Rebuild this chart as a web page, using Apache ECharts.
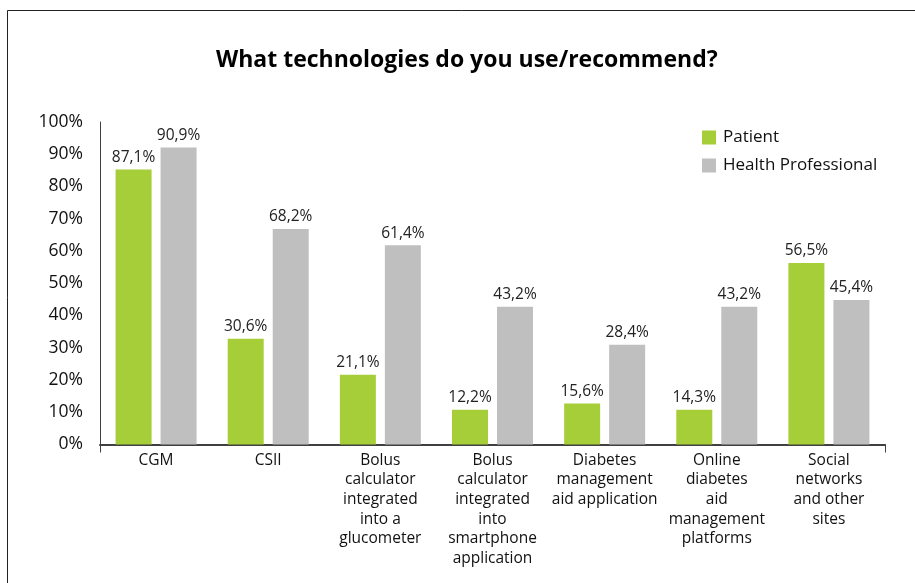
<!DOCTYPE html>
<html><head><meta charset="utf-8">
<script src="https://cdn.jsdelivr.net/npm/echarts@6/dist/echarts.min.js"></script>
<style>html,body{margin:0;padding:0;background:#fff}#c{width:915px;height:583px}</style>
</head><body><div id="c"></div>
<script>
var categories = ["CGM", "CSII", "Bolus\ncalculator\nintegrated\ninto a\nglucometer", "Bolus\ncalculator\nintegrated\ninto\nsmartphone\napplication", "Diabetes\nmanagement\naid application", "Online\ndiabetes\naid\nmanagement\nplatforms", "Social\nnetworks\nand other\nsites"];
var patient = [85.3, 32.8, 21.6, 10.8, 12.7, 10.8, 56.3];
var professional = [92.1, 66.8, 61.8, 42.7, 30.9, 42.7, 44.8];
var patientLabels = ["87,1%", "30,6%", "21,1%", "12,2%", "15,6%", "14,3%", "56,5%"];
var professionalLabels = ["90,9%", "68,2%", "61,4%", "43,2%", "28,4%", "43,2%", "45,4%"];
var yTicks = [0, 10, 20, 30, 40, 50, 60, 70, 80, 90, 100];

var FONT = "Open Sans";
var chart = echarts.init(document.getElementById('c'));
chart.setOption({
  animation: false,
  backgroundColor: '#fff',
  textStyle: {fontFamily: FONT},
  title: {
    text: 'What technologies do you use/recommend?',
    left: 211, top: 44,
    textStyle: {fontFamily: FONT, fontWeight: 'bold', fontSize: 23, color: '#000'}
  },
  graphic: [{
    type: 'rect', silent: true,
    shape: {x: 7.5, y: 10.5, width: 1000, height: 1000},
    style: {fill: 'none', stroke: '#222', lineWidth: 1}
  }],
  legend: {
    orient: 'vertical', left: 697, top: 124,
    itemWidth: 14, itemHeight: 14, itemGap: 11,
    icon: 'rect',
    textStyle: {fontFamily: FONT, fontSize: 17, color: '#111', padding: [0, 0, 0, 2]},
    data: ['Patient', 'Health Professional']
  },
  grid: {left: 100, right: 30, top: 122, bottom: 138.5, containLabel: false},
  xAxis: {
    type: 'category', data: categories,
    axisLine: {show: true, lineStyle: {color: '#404040', width: 2}},
    axisTick: {show: true, length: 8, interval: function(i){ return i === 0; }, lineStyle: {color: '#404040'}},
    axisLabel: {interval: 0, fontFamily: FONT, fontSize: 15.5, color: '#111', lineHeight: 19.6, margin: 6}
  },
  yAxis: {
    type: 'value', min: yTicks[0], max: yTicks[yTicks.length - 1], interval: 10,
    axisLine: {show: true, lineStyle: {color: '#404040', width: 1}},
    axisTick: {show: false},
    splitLine: {show: false},
    axisLabel: {formatter: '{value}%', fontFamily: FONT, fontSize: 17.5, color: '#111', margin: 17}
  },
  series: [{
    name: 'Patient', type: 'bar', data: patient, barWidth: 36, barGap: '25%',
    itemStyle: {color: '#A6CE39'},
    label: {show: true, position: 'top', distance: 4, fontFamily: FONT, fontSize: 15.5, color: '#222',
      formatter: function(p){ return patientLabels[p.dataIndex]; }}
  }, {
    name: 'Health Professional', type: 'bar', data: professional, barWidth: 36,
    itemStyle: {color: '#BFBFBF'},
    label: {show: true, position: 'top', distance: 4, fontFamily: FONT, fontSize: 15.5, color: '#222',
      formatter: function(p){ return professionalLabels[p.dataIndex]; }}
  }]
});
</script></body></html>
